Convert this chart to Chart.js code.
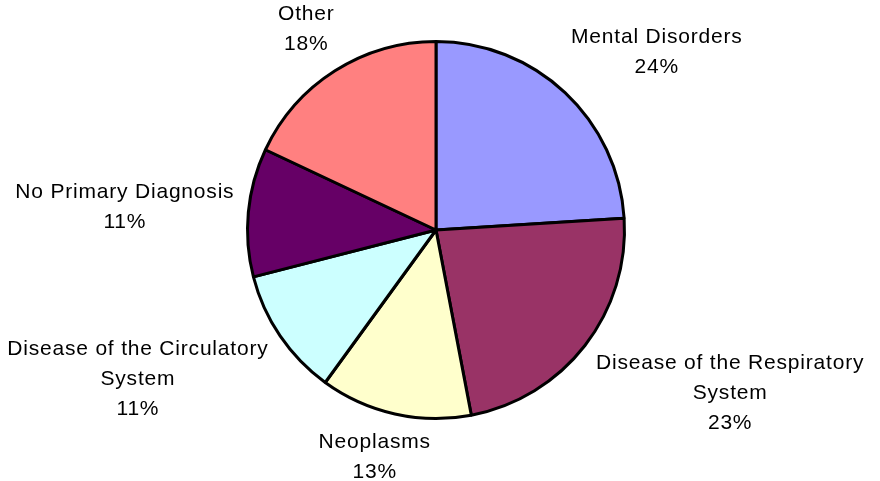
<!DOCTYPE html>
<html>
<head>
<meta charset="utf-8">
<script src="https://cdn.jsdelivr.net/npm/chart.js@4/dist/chart.umd.min.js"></script>
<style>
  html, body { margin:0; padding:0; background:#fff; }
  #wrap { width:880px; height:481px; position:relative; }
</style>
</head>
<body>
<div id="wrap"><canvas id="chart" width="880" height="481"></canvas></div>
<script>
// slices clockwise from 12 o'clock
const categories = [
  ['Mental Disorders'],
  ['Disease of the Respiratory', 'System'],
  ['Neoplasms'],
  ['Disease of the Circulatory', 'System'],
  ['No Primary Diagnosis'],
  ['Other']
];
const shares = [24, 23, 13, 11, 11, 18];
const sliceColors = ['#9999FF', '#993366', '#FFFFCC', '#CCFFFF', '#660066', '#FF8080'];

// outside labels, nudged off the rim the way the old office charts do it
const outsideLabels = {
  id: 'outsideLabels',
  afterDraw(chart) {
    const ctx = chart.ctx;
    const arcs = chart.getDatasetMeta(0).data;
    const lineH = 30;
    const clamp = v => Math.max(-1, Math.min(1, v));
    ctx.save();
    ctx.font = '21px "Liberation Sans", Arial, sans-serif';
    ctx.letterSpacing = '0.8px';
    ctx.fillStyle = '#000';
    ctx.textAlign = 'center';
    ctx.textBaseline = 'middle';
    arcs.forEach((arc, i) => {
      const p = arc.getProps(['x', 'y', 'startAngle', 'endAngle', 'outerRadius'], true);
      const mid = (p.startAngle + p.endAngle) / 2;
      const ux = Math.cos(mid), uy = Math.sin(mid);
      const r = p.outerRadius + 14;
      const ax = p.x + ux * r, ay = p.y + uy * r;
      const lines = categories[i].concat([shares[i] + '%']);
      const w = Math.max(...lines.map(l => ctx.measureText(l).width));
      const h = lines.length * lineH;
      const cx = ax + (w / 2) * clamp(ux * 1.4);
      const cy = ay + (h / 2) * clamp(uy * 1.4);
      lines.forEach((l, k) => {
        ctx.fillText(l, cx, cy - h / 2 + lineH / 2 + k * lineH);
      });
    });
    ctx.restore();
  }
};

new Chart(document.getElementById('chart'), {
  type: 'pie',
  data: {
    labels: categories.map(c => c.join(' ')),
    datasets: [{
      data: shares,
      backgroundColor: sliceColors,
      borderColor: '#000',
      borderWidth: 3
    }]
  },
  options: {
    responsive: false,
    animation: false,
    layout: { padding: { left: 246, right: 254, top: 40, bottom: 61 } },
    plugins: {
      legend: { display: false },
      tooltip: { enabled: false }
    }
  },
  plugins: [outsideLabels]
});
</script>
</body>
</html>
